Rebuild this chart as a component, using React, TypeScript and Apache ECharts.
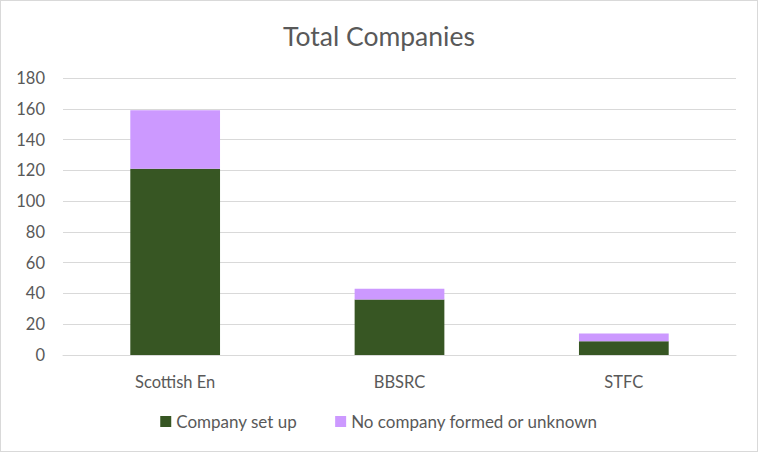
import React, { useEffect, useRef } from "react";
import * as echarts from "echarts";

const categories = ["Scottish En", "BBSRC", "STFC"];
const companySetUp = [121, 36, 9];
const noCompany = [38, 7, 5];
const seriesNames = ["Company set up", "No company formed or unknown"];

export default function App() {
  const ref = useRef<HTMLDivElement>(null);
  useEffect(() => {
    document.body.style.margin = "0";
    const chart = echarts.init(ref.current!, undefined, { renderer: "svg" });
    const font = "Lato, 'Open Sans', sans-serif";
    chart.setOption({
      animation: false,
      title: {
        text: "Total Companies",
        left: "center",
        top: 16,
        textStyle: { fontFamily: font, fontSize: 26.5, fontWeight: "normal", color: "#595959" },
      },
      grid: { left: 62, right: 21, top: 77, bottom: 96 },
      legend: {
        bottom: 16,
        left: "center",
        itemWidth: 11,
        itemHeight: 11,
        itemGap: 38,
        icon: "rect",
        textStyle: { fontFamily: font, fontSize: 17, color: "#595959" },
        data: seriesNames,
      },
      xAxis: {
        type: "category",
        data: categories,
        axisLine: { lineStyle: { color: "#d9d9d9" } },
        axisTick: { show: false },
        axisLabel: { fontFamily: font, fontSize: 16.5, color: "#595959", margin: 18 },
      },
      yAxis: {
        type: "value",
        min: 0,
        max: 180,
        interval: 20,
        axisLine: { show: false },
        axisTick: { show: false },
        axisLabel: { fontFamily: font, fontSize: 16.5, color: "#595959", margin: 18 },
        splitLine: { lineStyle: { color: "#d9d9d9", width: 1 } },
      },
      series: [
        {
          name: seriesNames[0],
          type: "bar",
          stack: "total",
          barWidth: "40%",
          data: companySetUp,
          itemStyle: { color: "#375623" },
        },
        {
          name: seriesNames[1],
          type: "bar",
          stack: "total",
          barWidth: "40%",
          data: noCompany,
          itemStyle: { color: "#cc99ff" },
        },
      ],
    });
    return () => chart.dispose();
  }, []);
  return (
    <div
      ref={ref}
      style={{ width: 758, height: 452, boxSizing: "border-box", border: "1px solid #d9d9d9", background: "#fff" }}
    />
  );
}
